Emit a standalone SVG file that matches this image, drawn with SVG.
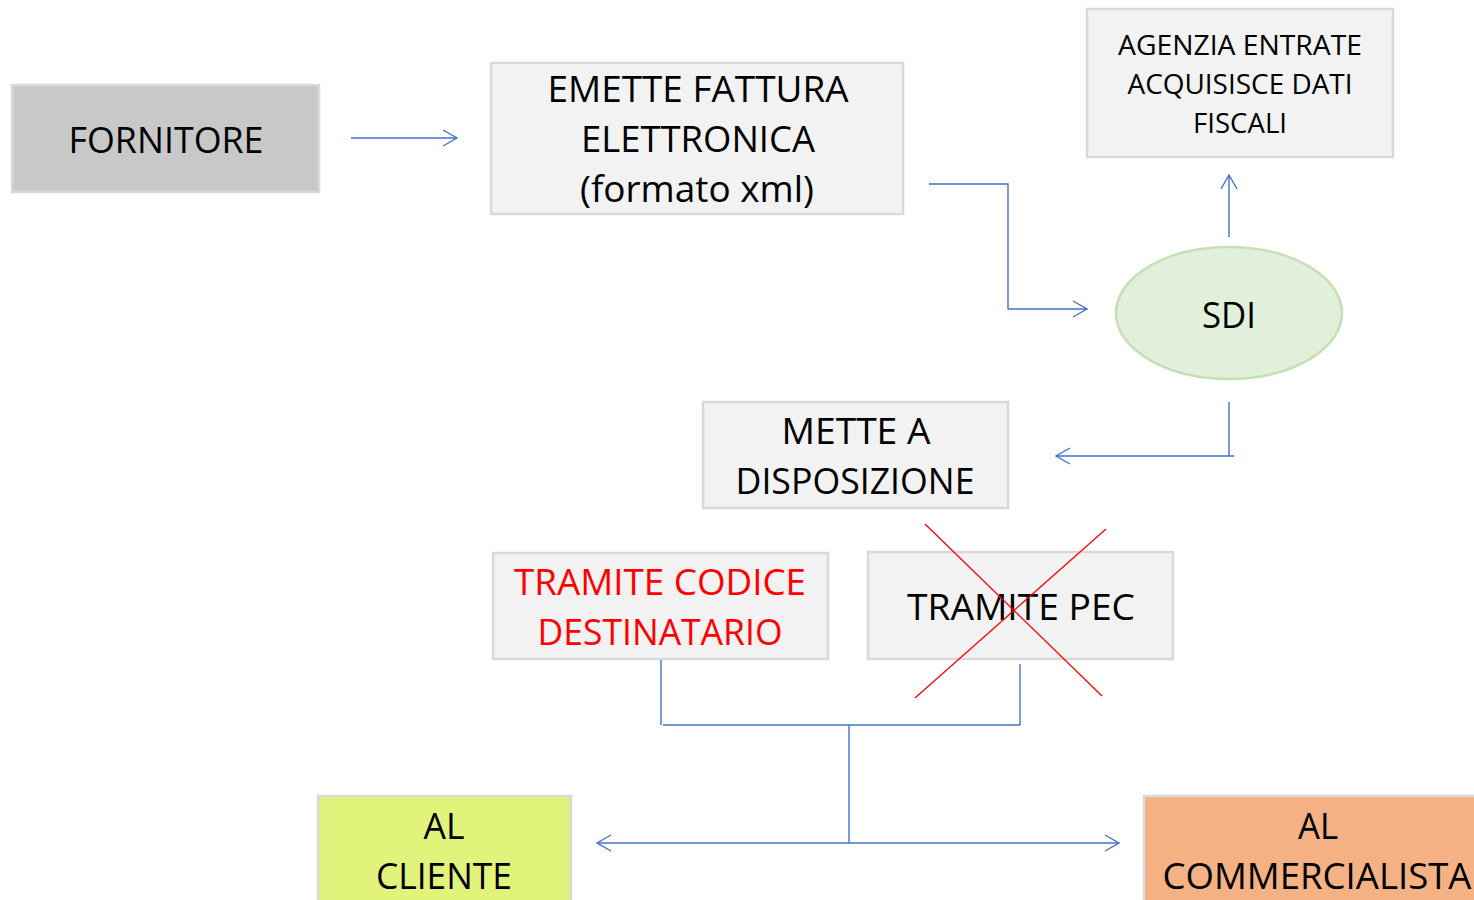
<svg xmlns="http://www.w3.org/2000/svg" width="1474" height="900" viewBox="0 0 1474 900">
<defs>
<style>
.box{fill:#f2f2f2;stroke:#d9d9d9;stroke-width:2.5}
.t{font-family:"Open Sans","Noto Sans",sans-serif;fill:#000;text-anchor:middle}
.big{font-size:37px}
.sm{font-size:27px}
.con{fill:none;stroke:#4472c4;stroke-width:1.4}
.x{stroke:#ff0000;stroke-width:1.3}
</style>
<marker id="arr" viewBox="0 0 16 18" refX="15" refY="9" markerWidth="16" markerHeight="18" markerUnits="userSpaceOnUse" orient="auto-start-reverse">
<path d="M1,1 L15,9 L1,17" fill="none" stroke="#4472c4" stroke-width="1.4"/>
</marker>
</defs>
<rect width="1474" height="900" fill="#ffffff"/>

<g id="fornitore">
<rect x="12" y="85" width="307" height="107" fill="#c8c8c8" stroke="#d9d9d9" stroke-width="2.5"/>
<text class="t big" x="166" y="153" textLength="195" lengthAdjust="spacingAndGlyphs">FORNITORE</text>
</g>

<g id="emette">
<rect class="box" x="491" y="63" width="412" height="151"/>
<text class="t big" x="698" y="102" textLength="301" lengthAdjust="spacingAndGlyphs">EMETTE FATTURA</text>
<text class="t big" x="698" y="152" textLength="234" lengthAdjust="spacingAndGlyphs">ELETTRONICA</text>
<text class="t big" x="697" y="202" textLength="234" lengthAdjust="spacingAndGlyphs">(formato xml)</text>
</g>

<g id="agenzia">
<rect class="box" x="1087" y="9" width="306" height="148"/>
<text class="t sm" x="1240" y="55" textLength="244" lengthAdjust="spacingAndGlyphs">AGENZIA ENTRATE</text>
<text class="t sm" x="1240" y="94" textLength="225" lengthAdjust="spacingAndGlyphs">ACQUISISCE DATI</text>
<text class="t sm" x="1240" y="133" textLength="94" lengthAdjust="spacingAndGlyphs">FISCALI</text>
</g>

<g id="sdi">
<ellipse cx="1229" cy="313" rx="113" ry="66" fill="#e2efda" stroke="#c5e0b4" stroke-width="2.5"/>
<text class="t big" x="1229" y="328" textLength="54" lengthAdjust="spacingAndGlyphs">SDI</text>
</g>

<g id="mette">
<rect class="box" x="703" y="402" width="305" height="106"/>
<text class="t big" x="856" y="444" textLength="149" lengthAdjust="spacingAndGlyphs">METTE A</text>
<text class="t big" x="855" y="494" textLength="239" lengthAdjust="spacingAndGlyphs">DISPOSIZIONE</text>
</g>

<g id="codice">
<rect class="box" x="493" y="553" width="335" height="106"/>
<text class="t big" x="660" y="595" textLength="292" lengthAdjust="spacingAndGlyphs" style="fill:#ff0000">TRAMITE CODICE</text>
<text class="t big" x="660" y="645" textLength="245" lengthAdjust="spacingAndGlyphs" style="fill:#ff0000">DESTINATARIO</text>
</g>

<g id="pec">
<rect class="box" x="868" y="552" width="305" height="107"/>
<text class="t big" x="1021" y="620" textLength="228" lengthAdjust="spacingAndGlyphs">TRAMITE PEC</text>
<line class="x" x1="925" y1="524" x2="1102" y2="696"/>
<line class="x" x1="1106" y1="529" x2="915" y2="698"/>
</g>

<g id="cliente">
<rect x="318" y="796" width="253" height="110" fill="#e2f37c" stroke="#d9d9d9" stroke-width="2.5"/>
<text class="t big" x="444" y="839" textLength="41" lengthAdjust="spacingAndGlyphs">AL</text>
<text class="t big" x="444" y="889" textLength="136" lengthAdjust="spacingAndGlyphs">CLIENTE</text>
</g>

<g id="commercialista">
<rect x="1144" y="796" width="340" height="110" fill="#f4b183" stroke="#d9d9d9" stroke-width="2.5"/>
<text class="t big" x="1318" y="839" textLength="40" lengthAdjust="spacingAndGlyphs">AL</text>
<text class="t big" x="1317" y="889" textLength="309" lengthAdjust="spacingAndGlyphs">COMMERCIALISTA</text>
</g>

<g id="connectors">
<line class="con" x1="351" y1="138" x2="457" y2="138" marker-end="url(#arr)"/>
<polyline class="con" points="929,184 1008,184 1008,309 1087,309" marker-end="url(#arr)"/>
<line class="con" x1="1229" y1="237" x2="1229" y2="175" marker-end="url(#arr)"/>
<line class="con" x1="1229" y1="402" x2="1229" y2="456"/>
<line class="con" x1="1234" y1="456" x2="1056" y2="456" marker-end="url(#arr)"/>
<line class="con" x1="661" y1="660" x2="661" y2="725"/>
<line class="con" x1="1020" y1="664" x2="1020" y2="725"/>
<line class="con" x1="663" y1="725" x2="1020" y2="725"/>
<line class="con" x1="849" y1="725" x2="849" y2="843"/>
<line class="con" x1="597" y1="843" x2="1119" y2="843" marker-start="url(#arr)" marker-end="url(#arr)"/>
</g>
</svg>
